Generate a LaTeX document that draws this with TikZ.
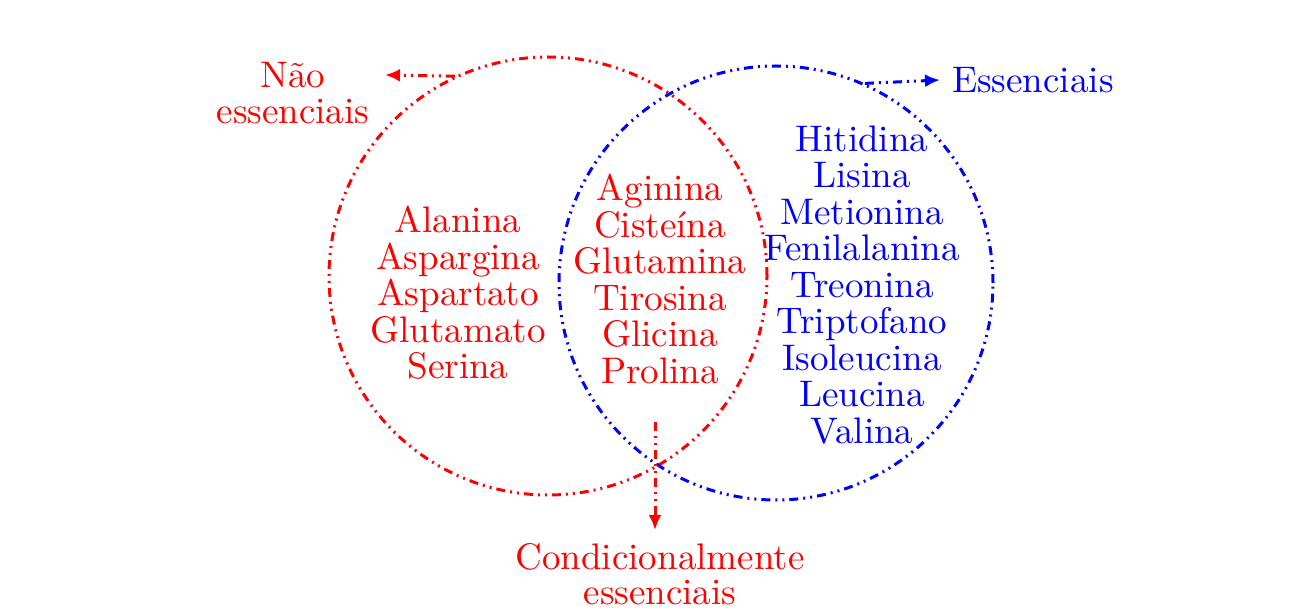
\documentclass[tikz,border=0pt]{standalone}
\usepackage{fontspec}
\setmainfont{lmroman10-regular}[Extension=.otf]
\usetikzlibrary{arrows.meta}
\definecolor{vred}{RGB}{255,0,0}
\definecolor{vblue}{RGB}{0,0,255}
\tikzset{
  ddot/.style={line width=3pt, dash pattern=on 9pt off 5pt on 2pt off 5pt on 2pt off 5pt},
  setc/.style={circle, draw, ddot, inner sep=0pt, minimum size=438pt},
  lbl/.style={align=center, inner sep=0pt, font=\fontsize{37}{36.5}\selectfont},
  arr/.style={ddot, -{Latex[length=15pt,width=13pt]}},
}
\begin{document}
\begin{tikzpicture}[x=1pt,y=-1pt]
\useasboundingbox (0,0) rectangle (1314,609);
\node[setc, vred] (red) at (548,276) {};
\node[setc, vblue, minimum size=434pt] (blue) at (776,283) {};
\node[lbl, vred] (left) at (458,293) {Alanina\\Aspargina\\Aspartato\\Glutamato\\Serina};
\node[lbl, vred] (mid) at (660,279) {Aginina\\Cisteína\\Glutamina\\Tirosina\\Glicina\\Prolina};
\node[lbl, vblue] (right) at (862,285) {Hitidina\\Lisina\\Metionina\\Fenilalanina\\Treonina\\Triptofano\\Isoleucina\\Leucina\\Valina};
\node[lbl, vred] (nao) at (293,93) {Não\\essenciais};
\node[lbl, vblue, anchor=west] (ess) at (952,80) {Essenciais};
\node[lbl, vred, anchor=north, font=\fontsize{37}{35}\selectfont] (cond) at (660,543) {Condicionalmente\\essenciais};
\coordinate (naotip) at (385,75);
\coordinate (condstart) at (655,422);
\draw[arr, vred] (red.115) -- (naotip);
\draw[arr, vblue] (blue.66) -- ([xshift=-12pt]ess.west);
\draw[arr, vred] (condstart) -- ([yshift=13pt]condstart |- cond.north);
\end{tikzpicture}
\end{document}
